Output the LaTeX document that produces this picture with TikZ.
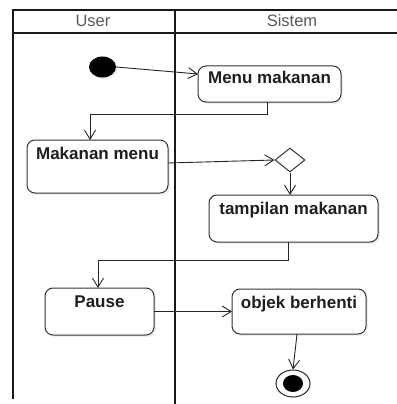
\documentclass[tikz,border=0pt]{standalone}
\usepackage{fontspec}
\setmainfont{Liberation Sans}
\usetikzlibrary{arrows.meta,shapes.geometric,shadows}

\begin{document}
\begin{tikzpicture}[x=1pt,y=-1pt,
  lane/.style={line width=2.4pt, draw=black!90, line cap=rect},
  lanetitle/.style={font=\fontsize{16.5}{18}\selectfont, text=black!65, inner sep=0pt},
  act/.style={draw=black!80, line width=1pt, rounded corners=8pt, fill=white,
    inner sep=0pt, outer sep=0pt, anchor=north west,
    drop shadow={opacity=0.12, shadow xshift=2pt, shadow yshift=-2pt}},
  acttext/.style={font=\bfseries\fontsize{17}{19}\selectfont, text=black!88,
    inner sep=0pt, anchor=base},
  flow/.style={draw=black!85, line width=0.9pt,
    -{Straight Barb[length=9pt,width=11pt,line width=0.9pt]}},
]
\useasboundingbox (0,0) rectangle (396,404);

% swimlane frame
\draw[lane] (13,10) -- (396,10);
\draw[lane] (13,33) -- (396,33);
\draw[lane] (13,10) -- (13,398);
\draw[lane] (175,10) -- (175,404);
\node[lanetitle] (userH) at (93,21) {User};
\node[lanetitle] (sysH) at (292,21) {Sistem};

% start and end points
\node[ellipse, fill=black, minimum width=27pt, minimum height=21pt, inner sep=0pt,
  drop shadow={opacity=0.12, shadow xshift=2pt, shadow yshift=-2pt}] (start) at (102.5,67) {};
\node[ellipse, draw=black!85, line width=1pt, fill=white, minimum width=34pt,
  minimum height=27pt, inner sep=0pt] (final) at (293,383.5) {};
\node[ellipse, fill=black, minimum width=20pt, minimum height=17pt, inner sep=0pt]
  (finalDot) at (final.center) {};

% actions
\node[act, minimum width=143pt, minimum height=36pt] (menu) at (198,66) {};
\node[acttext] (menuT) at ([yshift=-18pt]menu.north) {Menu makanan};

\node[act, minimum width=141pt, minimum height=53pt] (makan) at (27,140) {};
\node[acttext] (makanT) at ([yshift=-19pt]makan.north) {Makanan menu};

\node[act, minimum width=169pt, minimum height=47pt] (tampil) at (209,195) {};
\node[acttext] (tampilT) at ([yshift=-19pt]tampil.north) {tampilan makanan};

\node[act, minimum width=109pt, minimum height=47pt] (pause) at (45,288) {};
\node[acttext] (pauseT) at ([yshift=-19pt]pause.north) {Pause};

\node[act, minimum width=134pt, minimum height=45pt] (objek) at (232,289) {};
\node[acttext] (objekT) at ([yshift=-19pt]objek.north) {objek berhenti};

% decision
\node[diamond, draw=black!80, line width=1pt, fill=white, minimum width=30pt,
  minimum height=24pt, inner sep=0pt] (dec) at (290,160) {};

% control flow
\draw[flow] (start.east) -- ([yshift=10pt]menu.west);
\draw[flow] ([xshift=-2.5pt]menu.south) -- ++(0,12) -| ([xshift=-7.5pt]makan.north);
\draw[flow] ([yshift=3.5pt]makan.east) -- (dec.west);
\draw[flow] (dec.south) -- (dec.south |- tampil.north);
\draw[flow] ([xshift=-5.5pt]tampil.south) -- ++(0,18) -| ([xshift=-1.5pt]pause.north);
\draw[flow] (pause.east) -- (objek.west);
\draw[flow] ([xshift=-2pt]objek.south) -- (final.north);
\end{tikzpicture}
\end{document}
